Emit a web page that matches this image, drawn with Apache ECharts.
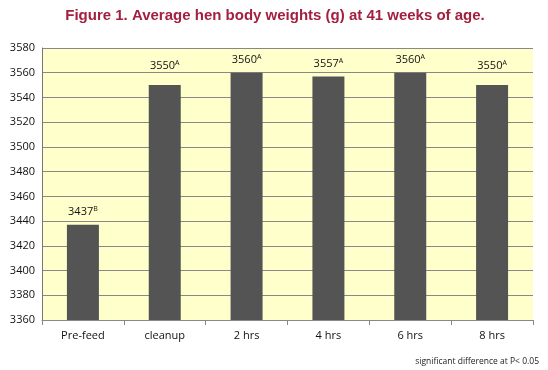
<!DOCTYPE html>
<html><head><meta charset="utf-8">
<script src="https://cdn.jsdelivr.net/npm/echarts@6/dist/echarts.min.js"></script>
<style>html,body{margin:0;padding:0;background:#fff}#c{width:548px;height:370px}</style>
</head><body><div id="c"></div>
<script>
const categories = ['Pre-feed','cleanup','2 hrs','4 hrs','6 hrs','8 hrs'];
const weights = [3437,3550,3560,3557,3560,3550];
const letters = ['B','A','A','A','A','A'];
const yTicks = [3360,3380,3400,3420,3440,3460,3480,3500,3520,3540,3560,3580];

const chart = echarts.init(document.getElementById('c'));
chart.setOption({
  animation:false,
  title:[{
    text:'Figure 1. Average hen body weights (g) at 41 weeks of age.',
    left:270, top:3, textAlign:'center',
    textStyle:{fontFamily:'Liberation Sans, Arial',fontWeight:'bold',fontSize:15,color:'#A3203F'}
  },{
    text:'significant difference at P< 0.05',
    right:4, top:352,
    textStyle:{fontFamily:'Open Sans',fontWeight:'normal',fontSize:8.5,color:'#222'}
  }],
  grid:{left:42,right:15,top:48,bottom:50,show:true,backgroundColor:'#FFFFCC',borderWidth:0},
  xAxis:{
    type:'category', data:categories,
    axisLine:{lineStyle:{color:'#888',width:1}},
    axisTick:{show:true,length:5,lineStyle:{color:'#888'}},
    axisLabel:{fontFamily:'Open Sans',fontSize:11,color:'#111',margin:10}
  },
  yAxis:{
    type:'value', min:yTicks[0], max:yTicks[yTicks.length-1], interval:20,
    axisLine:{show:true,lineStyle:{color:'#777',width:1}},
    axisTick:{show:false},
    splitLine:{lineStyle:{color:'#888',width:1}},
    axisLabel:{fontFamily:'Open Sans',fontSize:11,color:'#111',margin:7,formatter:v=>String(v)}
  },
  series:[{
    type:'bar',
    data:weights.map((v,i)=>({value:v,letter:letters[i],label:{distance:(i===1||i===5)?13:6}})),
    barWidth:32,
    itemStyle:{color:'#545454'},
    label:{
      show:true, position:'top', distance:6,
      formatter:p=>'{n|'+p.value+'}{s|'+p.data.letter+'}',
      rich:{
        n:{fontFamily:'Open Sans',fontSize:11,color:'#111'},
        s:{fontFamily:'Open Sans',fontSize:7,color:'#111',verticalAlign:'top',padding:[0,0,6,0]}
      }
    }
  }]
});
</script></body></html>
